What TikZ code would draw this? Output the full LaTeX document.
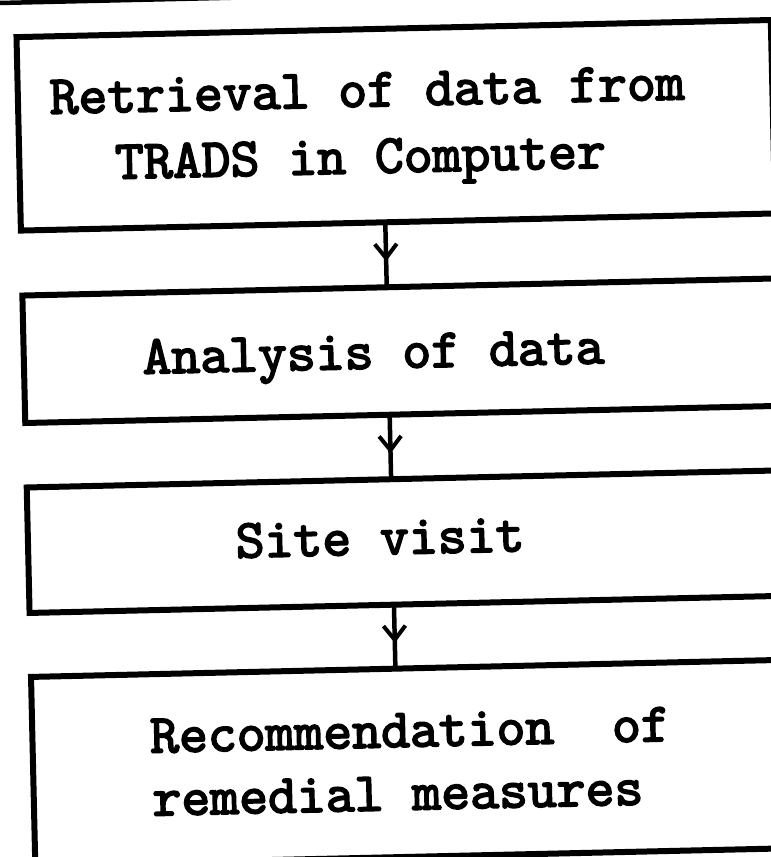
\documentclass[tikz,border=0pt]{standalone}
\usepackage{fontspec}
\newfontfamily\boxfont{lmmono10-regular}[Extension=.otf, FakeBold=3]
\usetikzlibrary{arrows.meta,decorations.markings}
\begin{document}
\begin{tikzpicture}[x=1pt,y=-1pt,
  flowbox/.style={draw, rectangle, line width=6pt, inner sep=0pt, outer sep=0pt},
  txt/.style={anchor=base west, inner sep=0pt, font=\fontsize{55}{60}\selectfont\boxfont},
  flowlink/.style={line width=4.5pt, postaction={decorate},
    decoration={markings, mark=at position 0.6 with {\arrow{Straight Barb[length=14pt,width=22pt,line width=4pt]}}}}]
\useasboundingbox (0,0) rectangle (771,857);
\clip (0,0) rectangle (771,857);
\begin{scope}[rotate around={1.3:(400,430)}, transform shape]
  % edge of the preceding box
  \draw[line width=4.5pt] (-40,-6) -- (400,-6);
  % process boxes
  \node[flowbox, minimum width=754.5pt, minimum height=193.5pt] (b1) at (402.75,125.25) {};
  \node[flowbox, minimum width=754.5pt, minimum height=127.5pt] (b2) at (402.75,350.75) {};
  \node[flowbox, minimum width=754.5pt, minimum height=125.5pt] (b3) at (402.75,541.75) {};
  \node[flowbox, minimum width=754.5pt, minimum height=188.5pt] (b4) at (402.75,762.75) {};
  % labels
  \node[txt] (t1) at (57,106) {Retrieval of data from};
  \node[txt] (t2) at (121,172.5) {TRADS in Computer};
  \node[txt] (t3) at (144,368) {Analysis of data};
  \node[txt] (t4) at (233,554) {Site visit};
  \node[txt] (t5) at (143,747) {Recommendation~~of};
  \node[txt] (t6) at (144,810) {remedial measures};
  % connectors
  \coordinate (ax) at (390,0);
  \draw[flowlink] (b1.south -| ax) -- (b2.north -| ax);
  \draw[flowlink] (b2.south -| ax) -- (b3.north -| ax);
  \draw[flowlink] (b3.south -| ax) -- (b4.north -| ax);
\end{scope}
\end{tikzpicture}
\end{document}
